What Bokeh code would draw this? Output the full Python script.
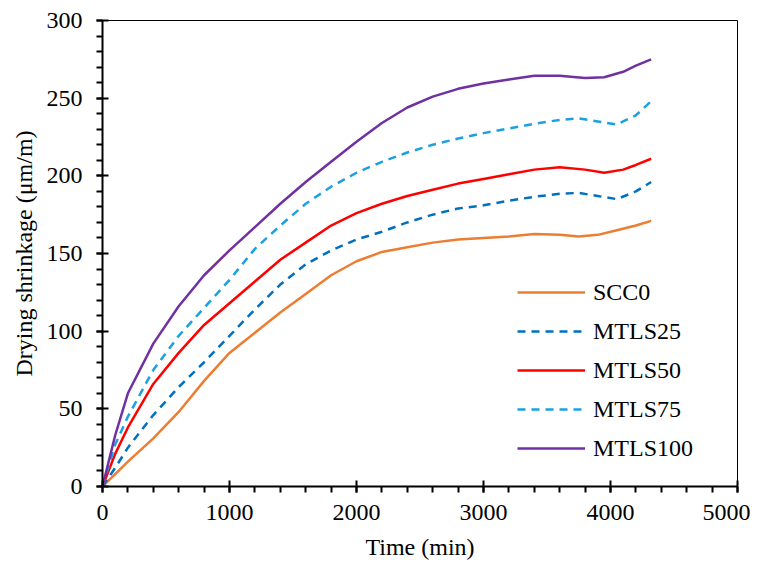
from bokeh.plotting import figure
from bokeh.models import Range1d, Legend, LegendItem, FixedTicker
from bokeh.embed import file_html
from bokeh.resources import INLINE

# Time (min)
t_scc0 = [0, 100, 200, 400, 600, 800, 1000, 1200, 1400, 1600, 1800, 2000, 2200, 2400, 2600, 2800, 3000, 3200, 3400, 3600, 3750, 3900, 4050, 4200, 4320]
scc0 = [0, 8, 16, 31, 48, 68, 86, 99, 112, 124, 136, 145, 151, 154, 157, 159, 160, 161, 162.5, 162, 161, 162, 165, 168, 171]

t_25 = [0, 100, 200, 400, 600, 800, 1000, 1200, 1400, 1600, 1800, 2000, 2200, 2400, 2600, 2800, 3000, 3200, 3400, 3600, 3750, 3900, 4050, 4200, 4320]
mtls25 = [0, 12, 25, 46, 64, 80, 97, 114, 130, 143, 152, 159, 164, 170, 175, 179, 181, 184, 186.5, 188.5, 189, 187, 185, 190, 196]

t_50 = [0, 100, 200, 400, 600, 800, 1000, 1200, 1400, 1600, 1800, 2000, 2200, 2400, 2600, 2800, 3000, 3200, 3400, 3600, 3800, 3950, 4100, 4200, 4320]
mtls50 = [0, 21, 38, 66, 86, 104, 118, 132, 146, 157, 168, 176, 182, 187, 191, 195, 198, 201, 204, 205.5, 204, 202, 204, 207, 211]

t_75 = [0, 100, 200, 400, 600, 800, 1000, 1200, 1400, 1600, 1800, 2000, 2200, 2400, 2600, 2800, 3000, 3200, 3400, 3600, 3750, 3900, 4050, 4200, 4320]
mtls75 = [0, 27, 45, 75, 97, 115, 133, 153, 168, 182, 193, 202, 209, 215, 220, 224, 227.5, 230.5, 233.5, 236, 237, 235, 233, 239, 248]

t_100 = [0, 100, 200, 400, 600, 800, 1000, 1200, 1400, 1600, 1800, 2000, 2200, 2400, 2600, 2800, 3000, 3200, 3400, 3600, 3800, 3950, 4100, 4200, 4320]
mtls100 = [0, 33, 60, 92, 116, 136, 152, 167, 182, 196, 209, 222, 234, 244, 251, 256, 259.5, 262, 264.5, 264.5, 263, 263.5, 267, 271, 275]

x_ticks = [0, 1000, 2000, 3000, 4000, 5000]
y_ticks = [0, 50, 100, 150, 200, 250, 300]

FONT = "Liberation Serif"
FS = "24px"

p = figure(width=750, height=556, output_backend="svg", toolbar_location=None,
           x_range=Range1d(0, 5000), y_range=Range1d(0, 300),
           min_border_left=102, min_border_right=13, min_border_top=20, min_border_bottom=70)
p.frame_width = 635
p.frame_height = 466

p.xgrid.visible = False
p.ygrid.visible = False
p.outline_line_color = "black"
p.outline_line_width = 1

for ax in (p.xaxis[0], p.yaxis[0]):
    ax.axis_line_width = 2
    ax.axis_line_color = "black"
    ax.major_tick_in = 6
    ax.major_tick_out = 6
    ax.major_tick_line_width = 2
    ax.minor_tick_in = 0
    ax.minor_tick_out = 6
    ax.minor_tick_line_width = 2
    ax.major_label_text_font = FONT
    ax.major_label_text_font_size = FS
    ax.major_label_text_color = "black"
    ax.axis_label_text_font = FONT
    ax.axis_label_text_font_size = FS
    ax.axis_label_text_font_style = "normal"
    ax.axis_label_text_color = "black"

p.xaxis[0].ticker = FixedTicker(ticks=x_ticks, minor_ticks=list(range(0, 5001, 200)))
p.yaxis[0].ticker = FixedTicker(ticks=y_ticks, minor_ticks=list(range(0, 301, 10)))
p.xaxis.major_label_standoff = 12
p.yaxis.major_label_standoff = 14
p.xaxis.axis_label = "Time (min)"
p.yaxis.axis_label = "Drying shrinkage (μm/m)"
p.xaxis.axis_label_standoff = 11
p.yaxis.axis_label_standoff = 7

r0 = p.line(t_scc0, scc0, line_color="#ED7D31", line_width=2.5)
r1 = p.line(t_25, mtls25, line_color="#0070C0", line_width=2.5, line_dash="8 6")
r2 = p.line(t_50, mtls50, line_color="#FF0000", line_width=2.5)
r3 = p.line(t_75, mtls75, line_color="#1BA1E2", line_width=2.5, line_dash="8 6")
r4 = p.line(t_100, mtls100, line_color="#7030A0", line_width=2.5)

legend = Legend(items=[
    LegendItem(label="SCC0", renderers=[r0]),
    LegendItem(label="MTLS25", renderers=[r1]),
    LegendItem(label="MTLS50", renderers=[r2]),
    LegendItem(label="MTLS75", renderers=[r3]),
    LegendItem(label="MTLS100", renderers=[r4]),
], location=(415, 23))
legend.border_line_alpha = 0
legend.background_fill_alpha = 0
legend.padding = 0
legend.margin = 0
legend.spacing = 9
legend.glyph_width = 68
legend.glyph_height = 30
legend.label_height = 30
legend.label_standoff = 8
legend.label_text_font = FONT
legend.label_text_font_size = FS
legend.label_text_color = "black"
p.add_layout(legend, "center")

open("out.html", "w").write(file_html(p, INLINE))
